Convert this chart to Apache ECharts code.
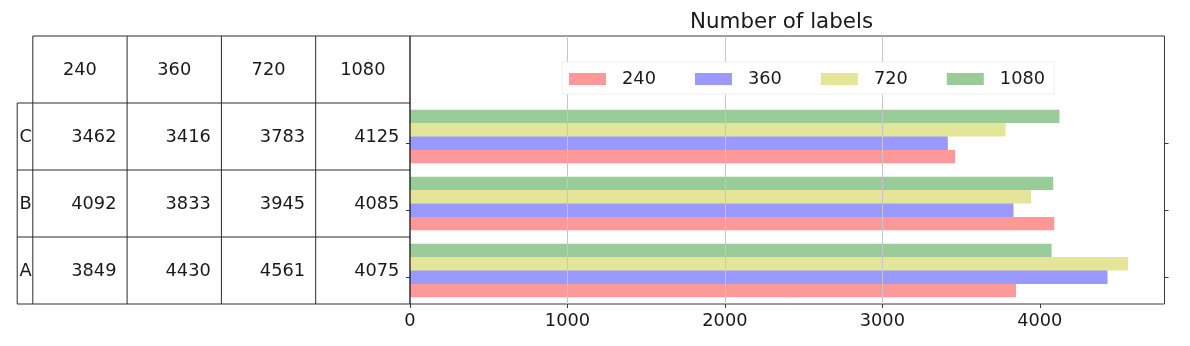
<!DOCTYPE html>
<html>
<head>
<meta charset="utf-8">
<script src="https://cdn.jsdelivr.net/npm/echarts@6/dist/echarts.min.js"></script>
<style>
html, body { margin: 0; padding: 0; background: #ffffff; }
#chart { width: 1190px; height: 346px; }
</style>
</head>
<body>
<div id="chart"></div>
<script>
// ---- data ----
const categories = ['A', 'B', 'C'];
const resolutions = ['240', '360', '720', '1080'];
const values240 = [3849, 4092, 3462];
const values360 = [4430, 3833, 3416];
const values720 = [4561, 3945, 3783];
const values1080 = [4075, 4085, 4125];
const xTickValues = [0, 1000, 2000, 3000, 4000];
const titleText = 'Number of labels';

// ---- styles / layout ----
const seriesValues = [values240, values360, values720, values1080];
const seriesColors = ['rgba(255,0,0,0.4)', 'rgba(0,0,255,0.4)', 'rgba(191,191,0,0.4)', 'rgba(0,128,0,0.4)'];
const FONT = 'DejaVu Sans';
const FS = 17.8;
const TXT = '#1a1a1a';
const EDGE = '#3a3a3a';
const COL_W = 94.3;
const ROWLABEL_W = 15.6;

const chart = echarts.init(document.getElementById('chart'), null, { renderer: 'canvas' });

const series = [];
for (let i = resolutions.length - 1; i >= 0; i--) {
  series.push({
    type: 'bar',
    name: resolutions[i],
    data: seriesValues[i],
    xAxisIndex: 0,
    yAxisIndex: 0,
    barGap: '0%',
    barCategoryGap: '20%',
    itemStyle: { color: seriesColors[i] },
    emphasis: { disabled: true }
  });
}

const option = {
  animation: false,
  backgroundColor: '#ffffff',
  title: {
    text: titleText,
    left: 690,
    top: 12,
    padding: 0,
    textStyle: { fontFamily: FONT, fontSize: 21.4, fontWeight: 'normal', color: TXT }
  },
  legend: {
    data: resolutions,
    left: 562,
    top: 62,
    z: 6,
    orient: 'horizontal',
    icon: 'rect',
    itemWidth: 37,
    itemHeight: 12,
    itemGap: 39,
    padding: [8, 9, 6, 7],
    backgroundColor: '#ffffff',
    borderColor: '#eeeeee',
    borderWidth: 1,
    selectedMode: false,
    textStyle: { fontFamily: FONT, fontSize: FS, color: TXT, padding: [0, 0, 0, 11], lineHeight: 14 }
  },
  grid: [
    { left: 410, right: 25.5, top: 36, bottom: 42, show: true, borderColor: EDGE, borderWidth: 1, backgroundColor: 'transparent' },
    { left: 410, right: 25.5, top: 109.7, bottom: 35.3, show: false }
  ],
  xAxis: [
    {
      type: 'value', gridIndex: 0, min: 0, max: 4792, interval: 1000, z: 4,
      axisLine: { show: false },
      axisTick: { show: true, length: 4, customValues: xTickValues, lineStyle: { color: EDGE } },
      axisLabel: { show: true, customValues: xTickValues, margin: 8, fontFamily: FONT, fontSize: FS, color: TXT,
        formatter: function (v) { return xTickValues.indexOf(v) >= 0 ? String(v) : ''; } },
      splitLine: { show: true, showMinLine: false, showMaxLine: false, lineStyle: { color: '#c6c6c6', width: 1 } }
    },
    { type: 'value', gridIndex: 1, show: false, min: 0, max: 1 }
  ],
  yAxis: [
    {
      type: 'category', gridIndex: 0, data: categories.concat(['']),
      axisLine: { show: false }, axisTick: { show: false }, axisLabel: { show: false }, splitLine: { show: false }
    },
    {
      type: 'category', gridIndex: 1, position: 'left', data: categories,
      axisLine: { show: false }, axisLabel: { show: false },
      axisTick: { show: true, alignWithLabel: true, length: 4, lineStyle: { color: EDGE } }
    },
    {
      type: 'category', gridIndex: 1, position: 'right', data: categories,
      axisLine: { show: false }, axisLabel: { show: false },
      axisTick: { show: true, alignWithLabel: true, length: 4, lineStyle: { color: EDGE } }
    }
  ],
  series: series
};

chart.setOption(option);

// ---- table drawn left of the plot, aligned with the category bands ----
function buildTable() {
  const x0 = chart.convertToPixel({ xAxisIndex: 0 }, 0);
  const cy = function (idx) { return chart.convertToPixel({ yAxisIndex: 0 }, idx); };
  const band = Math.abs(cy(0) - cy(1));
  const headerIdx = categories.length;
  const headerTop = cy(headerIdx) - band / 2;
  const headerBottom = cy(headerIdx) + band / 2;
  const bodyBottom = cy(0) + band / 2;
  const nCols = resolutions.length;
  const colLeft = function (c) { return x0 - (nCols - c) * COL_W; };
  const xRowLabel = colLeft(0) - ROWLABEL_W;
  const els = [];
  const line = function (x1, y1, x2, y2) {
    els.push({ type: 'line', silent: true, z: 10,
      shape: { x1: x1, y1: y1, x2: x2, y2: y2 },
      style: { stroke: '#2b2b2b', lineWidth: 1 } });
  };
  const text = function (t, x, y, align) {
    els.push({ type: 'text', silent: true, z: 11, x: x, y: y + 1,
      style: { text: t, fill: TXT, font: FS + 'px "' + FONT + '"', textAlign: align, textVerticalAlign: 'middle' } });
  };
  // header row
  line(colLeft(0), headerTop, x0, headerTop);
  for (let c = 0; c <= nCols; c++) {
    const x = c < nCols ? colLeft(c) : x0;
    line(x, headerTop, x, headerBottom);
  }
  for (let c = 0; c < nCols; c++) {
    text(resolutions[c], colLeft(c) + COL_W / 2, cy(headerIdx), 'center');
  }
  // body rows (top: last category)
  line(xRowLabel, headerBottom, x0, headerBottom);
  for (let r = 0; r < categories.length; r++) {
    const yb = cy(r) + band / 2;
    line(xRowLabel, yb, x0, yb);
    text(categories[r], xRowLabel + 2.4, cy(r), 'left');
    for (let c = 0; c < nCols; c++) {
      text(String(seriesValues[c][r]), colLeft(c) + COL_W - 10.6, cy(r), 'right');
    }
  }
  line(xRowLabel, headerBottom, xRowLabel, bodyBottom);
  for (let c = 0; c <= nCols; c++) {
    const x = c < nCols ? colLeft(c) : x0;
    line(x, headerBottom, x, bodyBottom);
  }
  chart.setOption({ graphic: { elements: els } });
}
buildTable();
</script>
</body>
</html>
